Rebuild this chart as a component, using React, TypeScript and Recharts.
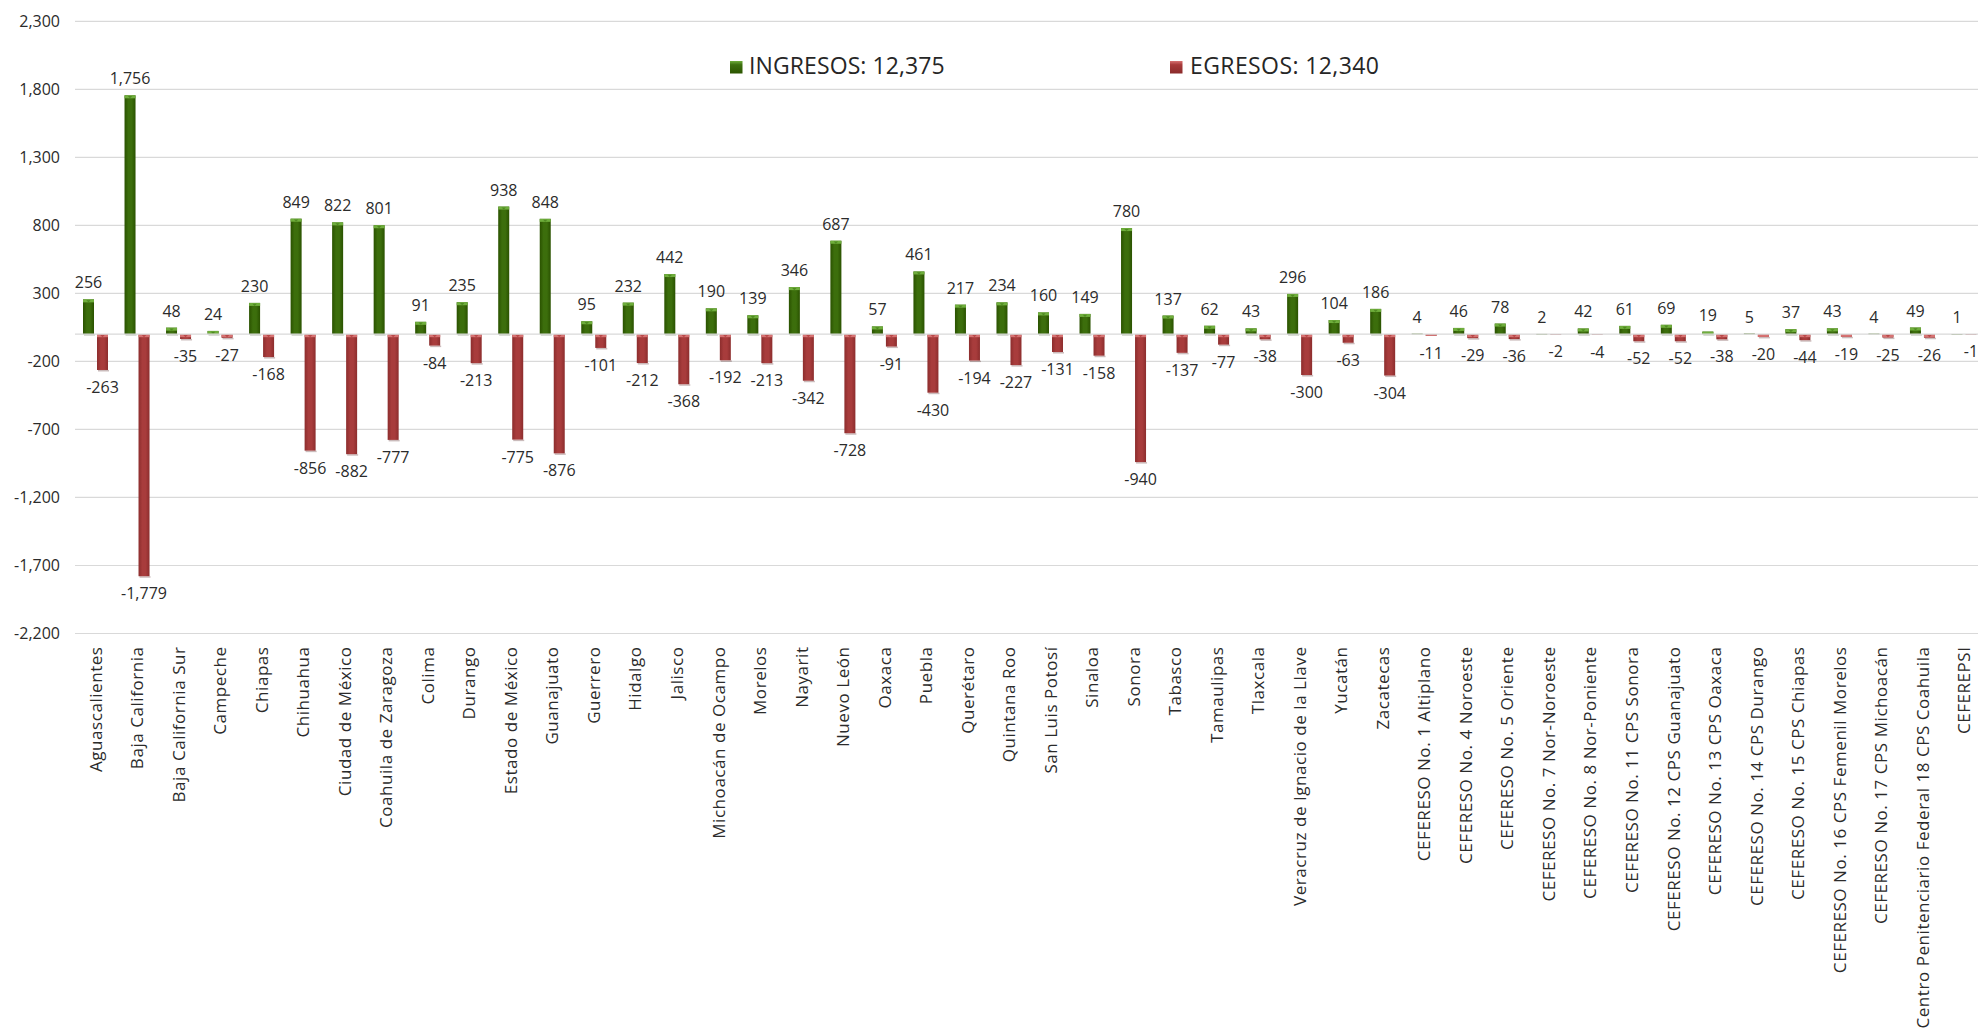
import React from "react";
import {
  BarChart,
  Bar,
  XAxis,
  YAxis,
  CartesianGrid,
  ReferenceLine,
  LabelList,
} from "recharts";

const categories = [
  "Aguascalientes",
  "Baja California",
  "Baja California Sur",
  "Campeche",
  "Chiapas",
  "Chihuahua",
  "Ciudad de México",
  "Coahuila de Zaragoza",
  "Colima",
  "Durango",
  "Estado de México",
  "Guanajuato",
  "Guerrero",
  "Hidalgo",
  "Jalisco",
  "Michoacán de Ocampo",
  "Morelos",
  "Nayarit",
  "Nuevo León",
  "Oaxaca",
  "Puebla",
  "Querétaro",
  "Quintana Roo",
  "San Luis Potosí",
  "Sinaloa",
  "Sonora",
  "Tabasco",
  "Tamaulipas",
  "Tlaxcala",
  "Veracruz de Ignacio de la Llave",
  "Yucatán",
  "Zacatecas",
  "CEFERESO No. 1 Altiplano",
  "CEFERESO No. 4 Noroeste",
  "CEFERESO No. 5 Oriente",
  "CEFERESO No. 7 Nor-Noroeste",
  "CEFERESO No. 8 Nor-Poniente",
  "CEFERESO No. 11 CPS Sonora",
  "CEFERESO No. 12 CPS Guanajuato",
  "CEFERESO No. 13 CPS Oaxaca",
  "CEFERESO No. 14 CPS Durango",
  "CEFERESO No. 15 CPS Chiapas",
  "CEFERESO No. 16 CPS Femenil Morelos",
  "CEFERESO No. 17 CPS Michoacán",
  "Centro Penitenciario Federal 18 CPS Coahuila",
  "CEFEREPSI",
];

const ingresos = [
  256, 1756, 48, 24, 230, 849, 822, 801, 91, 235, 938, 848, 95, 232, 442, 190,
  139, 346, 687, 57, 461, 217, 234, 160, 149, 780, 137, 62, 43, 296, 104, 186,
  4, 46, 78, 2, 42, 61, 69, 19, 5, 37, 43, 4, 49, 1,
];

const egresos = [
  -263, -1779, -35, -27, -168, -856, -882, -777, -84, -213, -775, -876, -101,
  -212, -368, -192, -213, -342, -728, -91, -430, -194, -227, -131, -158, -940,
  -137, -77, -38, -300, -63, -304, -11, -29, -36, -2, -4, -52, -52, -38, -20,
  -44, -19, -25, -26, -1,
];

const yTicks = [-2200, -1700, -1200, -700, -200, 300, 800, 1300, 1800, 2300];

const seriesNames = ["INGRESOS", "EGRESOS"];

const data = categories.map((name, i) => ({
  name,
  ingresos: ingresos[i],
  egresos: egresos[i],
}));

const fmt = (v: number) => v.toLocaleString("en-US");
const totalIngresos = ingresos.reduce((a, b) => a + b, 0);
const totalEgresos = egresos.reduce((a, b) => a + Math.abs(b), 0);

const FONT = "'Open Sans', sans-serif";
const TEXT = "#2b2b2b";

const makeShape = (kind: "g" | "r") => (props: any) => {
  const { x, width } = props;
  let { y, height } = props;
  if (height < 0) {
    y = y + height;
    height = -height;
  }
  if (!isFinite(y) || !isFinite(height)) return null;
  const cap = Math.min(3, height);
  const top = kind === "g" ? "#6fae3c" : "#d77272";
  const tri = kind === "g" ? "#4f8a22" : "#b84848";
  const shadow = kind === "g" ? "rgba(40,60,20,0.25)" : "rgba(80,30,30,0.3)";
  return (
    <g>
      {height > 2 && (
        <rect x={x + 1} y={y + height} width={width} height={1.5} fill={shadow} />
      )}
      <rect x={x} y={y} width={width} height={Math.max(height, 0.6)} fill={`url(#grad-${kind})`} />
      {height > 1 && <rect x={x} y={y} width={width} height={cap} fill={top} />}
      {height > 3 && (
        <polygon
          points={`${x + width * 0.3},${y + 0.8} ${x + width * 0.7},${y + 0.8} ${x + width / 2},${y + 3}`}
          fill={tri}
        />
      )}
    </g>
  );
};

const TopLabel = (props: any) => {
  const { x, y, width, height, value } = props;
  const t = Math.min(y, y + height);
  return (
    <text
      x={x + width / 2}
      y={t - 11}
      textAnchor="middle"
      fontFamily={FONT}
      fontSize={16}
      fill={TEXT}
    >
      {fmt(value)}
    </text>
  );
};

const BottomLabel = (props: any) => {
  const { x, y, width, height, value } = props;
  const b = Math.max(y, y + height);
  return (
    <text
      x={x + width / 2}
      y={b + 23}
      textAnchor="middle"
      fontFamily={FONT}
      fontSize={16}
      fill={TEXT}
    >
      {fmt(value)}
    </text>
  );
};

const CategoryTick = (props: any) => {
  const { x, y, payload } = props;
  return (
    <text
      transform={`translate(${x},${y + 13}) rotate(-90)`}
      textAnchor="end"
      dy="0.35em"
      fontFamily={FONT}
      fontSize={17}
      letterSpacing={0.55}
      fill={TEXT}
    >
      {payload.value}
    </text>
  );
};

const LegendOverlay = () => (
  <svg
    width={1978}
    height={100}
    style={{ position: "absolute", left: 0, top: 0, pointerEvents: "none" }}
  >
    <defs>
      <linearGradient id="lg-g" x1="0" y1="0" x2="0" y2="1">
        <stop offset="0" stopColor="#6fae3c" />
        <stop offset="0.3" stopColor="#3d7010" />
        <stop offset="1" stopColor="#2c5500" />
      </linearGradient>
      <linearGradient id="lg-r" x1="0" y1="0" x2="0" y2="1">
        <stop offset="0" stopColor="#d77272" />
        <stop offset="0.3" stopColor="#a83a3a" />
        <stop offset="1" stopColor="#8a2b2b" />
      </linearGradient>
    </defs>
    <rect x={730} y={61} width={12.5} height={12.5} fill="url(#lg-g)" />
    <text x={749} y={73.5} fontFamily={FONT} fontSize={23} letterSpacing={0.1} fill="#262626">
      {`${seriesNames[0]}: ${fmt(totalIngresos)}`}
    </text>
    <rect x={1170} y={61} width={12.5} height={12.5} fill="url(#lg-r)" />
    <text x={1190} y={73.5} fontFamily={FONT} fontSize={23} letterSpacing={0.4} fill="#262626">
      {`${seriesNames[1]}: ${fmt(totalEgresos)}`}
    </text>
  </svg>
);

export default function App() {
  return (
    <div
      style={{
        position: "absolute",
        left: 0,
        top: 0,
        width: 1978,
        height: 1031,
        overflow: "hidden",
        background: "#ffffff",
      }}
    >
      <BarChart
        width={1990}
        height={1031}
        data={data}
        margin={{ top: 21.3, right: 5, bottom: 0, left: 0 }}
        barSize={11}
        barGap={3}
      >
        <defs>
          <linearGradient id="grad-g" x1="0" y1="0" x2="1" y2="0">
            <stop offset="0" stopColor="#2a5200" />
            <stop offset="0.35" stopColor="#3c6e0c" />
            <stop offset="0.65" stopColor="#3c6e0c" />
            <stop offset="1" stopColor="#2a5200" />
          </linearGradient>
          <linearGradient id="grad-r" x1="0" y1="0" x2="1" y2="0">
            <stop offset="0" stopColor="#8c2d2d" />
            <stop offset="0.35" stopColor="#a83c3c" />
            <stop offset="0.65" stopColor="#a83c3c" />
            <stop offset="1" stopColor="#8c2d2d" />
          </linearGradient>
        </defs>
        <CartesianGrid vertical={false} stroke="#d9d9d9" strokeWidth={1.2} />
        <XAxis
          dataKey="name"
          interval={0}
          height={397.5}
          axisLine={false}
          tickLine={false}
          tickSize={0}
          tickMargin={0}
          tick={<CategoryTick />}
        />
        <YAxis
          width={75}
          domain={[-2200, 2300]}
          ticks={yTicks}
          allowDataOverflow
          axisLine={false}
          tickLine={false}
          tickSize={0}
          tickMargin={15}
          tickFormatter={fmt}
          tick={{ fontFamily: FONT, fontSize: 16, fill: TEXT }}
        />
        <ReferenceLine y={0} stroke="#d9d9d9" strokeWidth={1.2} />
        <Bar
          dataKey="ingresos"
          name={seriesNames[0]}
          shape={makeShape("g")}
          isAnimationActive={false}
        >
          <LabelList dataKey="ingresos" content={<TopLabel />} />
        </Bar>
        <Bar
          dataKey="egresos"
          name={seriesNames[1]}
          shape={makeShape("r")}
          isAnimationActive={false}
        >
          <LabelList dataKey="egresos" content={<BottomLabel />} />
        </Bar>
      </BarChart>
      <LegendOverlay />
    </div>
  );
}
